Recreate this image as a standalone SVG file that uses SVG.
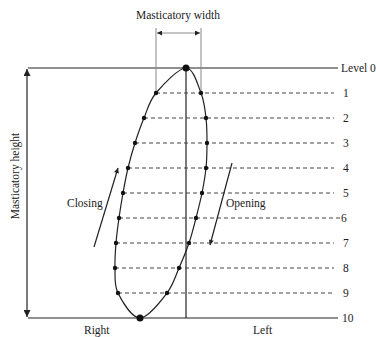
<svg xmlns="http://www.w3.org/2000/svg" width="376" height="337" viewBox="0 0 376 337">
<defs>
<marker id="ah" viewBox="0 0 10 10" refX="10" refY="5" markerWidth="8" markerHeight="7" markerUnits="userSpaceOnUse" orient="auto-start-reverse">
<path d="M0,0 L10,5 L0,10 Z" fill="#222"/>
</marker>
<marker id="ahs" viewBox="0 0 10 10" refX="10" refY="5" markerWidth="6" markerHeight="5" markerUnits="userSpaceOnUse" orient="auto-start-reverse">
<path d="M0,0 L10,5 L0,10 Z" fill="#222"/>
</marker>
</defs>
<style>
text{font-family:"Liberation Serif","Times New Roman",serif;font-size:11.5px;fill:#222}
.solid{stroke:#222;stroke-width:1.2;fill:none}
.dash{stroke:#444;stroke-width:1;stroke-dasharray:4,3;fill:none}
.guide{stroke:#888;stroke-width:1;fill:none}
.dot{fill:#111}
</style>
<rect width="376" height="337" fill="#fff"/>

<g id="connectors">
<line class="solid" x1="28" y1="68" x2="338" y2="68"/>
<line class="solid" x1="28" y1="318" x2="338" y2="318"/>
<line class="solid" x1="27" y1="69" x2="27" y2="317" marker-start="url(#ah)" marker-end="url(#ah)"/>
<line class="solid" x1="186" y1="68" x2="186" y2="318"/>
<line class="guide" x1="156" y1="28" x2="156" y2="93"/>
<line class="guide" x1="201" y1="28" x2="201" y2="93"/>
<line class="guide" x1="157" y1="33" x2="200" y2="33" marker-start="url(#ahs)" marker-end="url(#ahs)"/>
<line class="dash" x1="156" y1="93" x2="334" y2="93"/>
<line class="dash" x1="144" y1="118" x2="334" y2="118"/>
<line class="dash" x1="135" y1="143" x2="334" y2="143"/>
<line class="dash" x1="128" y1="168" x2="334" y2="168"/>
<line class="dash" x1="123" y1="193" x2="334" y2="193"/>
<line class="dash" x1="119" y1="218" x2="340" y2="218"/>
<line class="dash" x1="116" y1="243" x2="334" y2="243"/>
<line class="dash" x1="115" y1="268" x2="334" y2="268"/>
<line class="dash" x1="118" y1="293" x2="334" y2="293"/>
<line class="solid" x1="94" y1="247" x2="118" y2="168" marker-end="url(#ahs)"/>
<line class="solid" x1="232" y1="163" x2="210" y2="245" marker-end="url(#ahs)"/>
</g>

<g id="cycle">
<path class="solid" stroke-width="1.4" d="M186,68 C193.5,68 197.67,84.67 201,93 C204.33,101.33 205,109.67 206,118 C207,126.33 207,134.67 207,143 C207,151.33 206.83,159.67 206,168 C205.17,176.33 203.67,184.67 202,193 C200.33,201.33 198.17,209.67 196,218 C193.83,226.33 191.83,234.67 189,243 C186.17,251.33 182.67,259.67 179,268 C175.33,276.33 173.5,284.67 167,293 C160.5,301.33 148.17,318 140,318 C131.83,318 122.17,301.33 118,293 C113.83,284.67 115.33,276.33 115,268 C114.67,259.67 115.33,251.33 116,243 C116.67,234.67 117.83,226.33 119,218 C120.17,209.67 121.5,201.33 123,193 C124.5,184.67 126,176.33 128,168 C130,159.67 132.33,151.33 135,143 C137.67,134.67 140.5,126.33 144,118 C147.5,109.67 149,101.33 156,93 C163,84.67 178.5,68 186,68 Z"/>
<circle class="dot" cx="186" cy="68" r="3.5"/>
<circle class="dot" cx="140" cy="318" r="3.5"/>
<circle class="dot" cx="156" cy="93" r="2.2"/>
<circle class="dot" cx="144" cy="118" r="2.2"/>
<circle class="dot" cx="135" cy="143" r="2.2"/>
<circle class="dot" cx="128" cy="168" r="2.2"/>
<circle class="dot" cx="123" cy="193" r="2.2"/>
<circle class="dot" cx="119" cy="218" r="2.2"/>
<circle class="dot" cx="116" cy="243" r="2.2"/>
<circle class="dot" cx="115" cy="268" r="2.2"/>
<circle class="dot" cx="118" cy="293" r="2.2"/>
<circle class="dot" cx="201" cy="93" r="2.2"/>
<circle class="dot" cx="206" cy="118" r="2.2"/>
<circle class="dot" cx="207" cy="143" r="2.2"/>
<circle class="dot" cx="206" cy="168" r="2.2"/>
<circle class="dot" cx="202" cy="193" r="2.2"/>
<circle class="dot" cx="196" cy="218" r="2.2"/>
<circle class="dot" cx="189" cy="243" r="2.2"/>
<circle class="dot" cx="179" cy="268" r="2.2"/>
<circle class="dot" cx="167" cy="293" r="2.2"/>
</g>

<g id="labels">
<text x="178" y="19" text-anchor="middle">Masticatory width</text>
<text transform="translate(19,176) rotate(-90)" text-anchor="middle">Masticatory height</text>
<text x="67" y="207">Closing</text>
<text x="226" y="207">Opening</text>
<text x="84" y="334">Right</text>
<text x="253" y="334">Left</text>
<text x="341" y="72">Level 0</text>
<text x="343" y="97">1</text>
<text x="343" y="122">2</text>
<text x="343" y="147">3</text>
<text x="343" y="172">4</text>
<text x="343" y="197">5</text>
<text x="341" y="222">6</text>
<text x="343" y="247">7</text>
<text x="343" y="272">8</text>
<text x="343" y="297">9</text>
<text x="342" y="322">10</text>
</g>
</svg>
